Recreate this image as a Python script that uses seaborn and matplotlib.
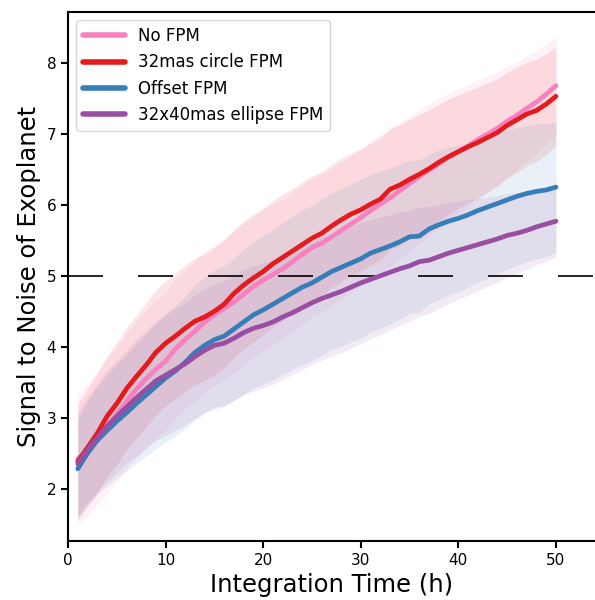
import matplotlib
matplotlib.use("Agg")
import matplotlib.pyplot as plt
from matplotlib.lines import Line2D
import numpy as np
import pandas as pd
import seaborn as sns

hours = list(range(1, 51))

snr_no_fpm = [2.42, 2.55, 2.72, 2.88, 3.05, 3.23, 3.40, 3.55, 3.68, 3.80,
              3.97, 4.10, 4.22, 4.35, 4.45, 4.54, 4.63, 4.74, 4.85, 4.94,
              5.02, 5.10, 5.20, 5.30, 5.40, 5.46, 5.55, 5.64, 5.73, 5.82,
              5.92, 6.01, 6.10, 6.20, 6.30, 6.40, 6.49, 6.58, 6.67, 6.75,
              6.83, 6.92, 7.00, 7.08, 7.18, 7.26, 7.36, 7.45, 7.56, 7.68]
snr_circle = [2.38, 2.58, 2.78, 3.02, 3.20, 3.41, 3.58, 3.74, 3.92, 4.05,
              4.15, 4.26, 4.36, 4.42, 4.50, 4.60, 4.75, 4.87, 4.97, 5.06,
              5.17, 5.26, 5.35, 5.44, 5.53, 5.60, 5.70, 5.79, 5.87, 5.93,
              6.01, 6.08, 6.22, 6.28, 6.36, 6.43, 6.51, 6.60, 6.68, 6.75,
              6.82, 6.88, 6.95, 7.02, 7.12, 7.20, 7.28, 7.33, 7.42, 7.53]
snr_offset = [2.28, 2.50, 2.68, 2.82, 2.95, 3.07, 3.20, 3.32, 3.44, 3.56,
              3.66, 3.78, 3.92, 4.02, 4.10, 4.15, 4.25, 4.35, 4.45, 4.52,
              4.60, 4.68, 4.76, 4.84, 4.90, 4.98, 5.06, 5.12, 5.18, 5.24,
              5.32, 5.37, 5.42, 5.48, 5.55, 5.56, 5.66, 5.72, 5.77, 5.81,
              5.86, 5.92, 5.97, 6.02, 6.07, 6.12, 6.16, 6.19, 6.21, 6.25]
snr_ellipse = [2.35, 2.55, 2.72, 2.88, 3.02, 3.15, 3.28, 3.40, 3.52, 3.60,
               3.68, 3.76, 3.86, 3.95, 4.02, 4.05, 4.12, 4.20, 4.26, 4.30,
               4.35, 4.42, 4.48, 4.55, 4.62, 4.68, 4.73, 4.78, 4.84, 4.90,
               4.95, 5.00, 5.05, 5.10, 5.14, 5.20, 5.22, 5.27, 5.32, 5.36,
               5.40, 5.44, 5.48, 5.52, 5.57, 5.60, 5.64, 5.69, 5.73, 5.77]

sd_no_fpm = [0.92, 0.93, 0.94, 0.95, 0.95, 0.96, 0.96, 0.97, 0.97, 0.97,
             0.98, 0.98, 0.98, 0.99, 0.99, 0.99, 1.00, 1.00, 0.99, 0.99,
             0.99, 0.98, 0.98, 0.98, 0.97, 0.97, 0.97, 0.96, 0.96, 0.96,
             0.97, 0.98, 0.97, 0.96, 0.95, 0.94, 0.93, 0.92, 0.90, 0.88,
             0.86, 0.84, 0.82, 0.80, 0.78, 0.76, 0.74, 0.72, 0.71, 0.69]
sd_circle = [0.82, 0.83, 0.84, 0.85, 0.86, 0.86, 0.87, 0.87, 0.88, 0.88,
             0.88, 0.89, 0.89, 0.89, 0.90, 0.90, 0.90, 0.90, 0.90, 0.89,
             0.89, 0.89, 0.88, 0.88, 0.88, 0.87, 0.87, 0.87, 0.86, 0.86,
             0.86, 0.86, 0.85, 0.85, 0.84, 0.84, 0.83, 0.82, 0.81, 0.80,
             0.79, 0.78, 0.77, 0.76, 0.75, 0.74, 0.73, 0.72, 0.71, 0.70]
sd_offset = [0.70, 0.73, 0.76, 0.78, 0.80, 0.82, 0.84, 0.86, 0.88, 0.90,
             0.92, 0.93, 0.95, 0.96, 0.98, 0.99, 1.00, 1.02, 1.03, 1.05,
             1.06, 1.07, 1.08, 1.09, 1.09, 1.10, 1.10, 1.11, 1.11, 1.12,
             1.11, 1.11, 1.10, 1.09, 1.08, 1.07, 1.06, 1.05, 1.04, 1.03,
             1.02, 1.01, 1.00, 0.99, 0.98, 0.97, 0.96, 0.95, 0.94, 0.92]
sd_ellipse = [0.72, 0.74, 0.76, 0.78, 0.79, 0.80, 0.82, 0.83, 0.84, 0.85,
              0.86, 0.86, 0.87, 0.87, 0.87, 0.88, 0.88, 0.88, 0.88, 0.88,
              0.88, 0.88, 0.87, 0.87, 0.87, 0.87, 0.86, 0.86, 0.86, 0.85,
              0.84, 0.83, 0.81, 0.80, 0.78, 0.77, 0.75, 0.73, 0.71, 0.69,
              0.67, 0.65, 0.63, 0.61, 0.59, 0.57, 0.55, 0.53, 0.52, 0.50]

series_names = ["No FPM", "32mas circle FPM", "Offset FPM", "32x40mas ellipse FPM"]
series_means = [snr_no_fpm, snr_circle, snr_offset, snr_ellipse]
series_sds = [sd_no_fpm, sd_circle, sd_offset, sd_ellipse]
colors = ["#f781bf", "#e41a1c", "#377eb8", "#984ea3"]

x_label = "Integration Time (h)"
y_label = "Signal to Noise of Exoplanet"
threshold = 5

sns.set_style("ticks")
plt.rcParams["font.family"] = ["DejaVu Sans"]
plt.rcParams["text.color"] = "black"
plt.rcParams["axes.labelcolor"] = "black"
plt.rcParams["xtick.color"] = "black"
plt.rcParams["ytick.color"] = "black"
plt.rcParams["axes.edgecolor"] = "black"

frames = []
for name, m, s in zip(series_names, series_means, series_sds):
    frames.append(pd.DataFrame({"hours": hours, "snr": m, "sd": s, "series": name}))
df = pd.concat(frames, ignore_index=True)

fig = plt.figure(figsize=(5.95, 6.0), dpi=100)
ax = fig.add_axes([68 / 595, 1 - 541 / 600, 1 - 68 / 595, (541 - 12) / 600])

for name, color in zip(series_names, colors):
    sub = df[df["series"] == name]
    ax.fill_between(sub["hours"], sub["snr"] - sub["sd"], sub["snr"] + sub["sd"],
                    color=color, alpha=0.11, linewidth=0)

sns.lineplot(data=df, x="hours", y="snr", hue="series", hue_order=series_names,
             palette=colors, linewidth=3.4, ax=ax, legend=False)

ax.axhline(threshold, color="black", linewidth=1.2, dashes=(21, 21), zorder=1)

ax.set_xlim(0, 54)
ax.set_ylim(1.263, 8.718)
ax.set_xticks([0, 10, 20, 30, 40, 50])
ax.set_yticks([2, 3, 4, 5, 6, 7, 8])
ax.set_xlabel(x_label, fontsize=17.5, color="black")
ax.set_ylabel(y_label, fontsize=17.5, color="black")
ax.tick_params(axis="both", labelsize=11, length=5, width=1.5, direction="out",
               colors="black")
for side in ["left", "bottom", "top"]:
    ax.spines[side].set_linewidth(1.5)
    ax.spines[side].set_color("black")
ax.spines["right"].set_visible(False)

handles = [Line2D([0], [0], color=c, linewidth=4) for c in colors]
leg = ax.legend(handles, series_names, loc="upper left", fontsize=12, handlelength=2.5,
                frameon=True, fancybox=True, framealpha=0.8, edgecolor="#cccccc")
for t in leg.get_texts():
    t.set_color("black")

fig.savefig("out.png", dpi=100)
